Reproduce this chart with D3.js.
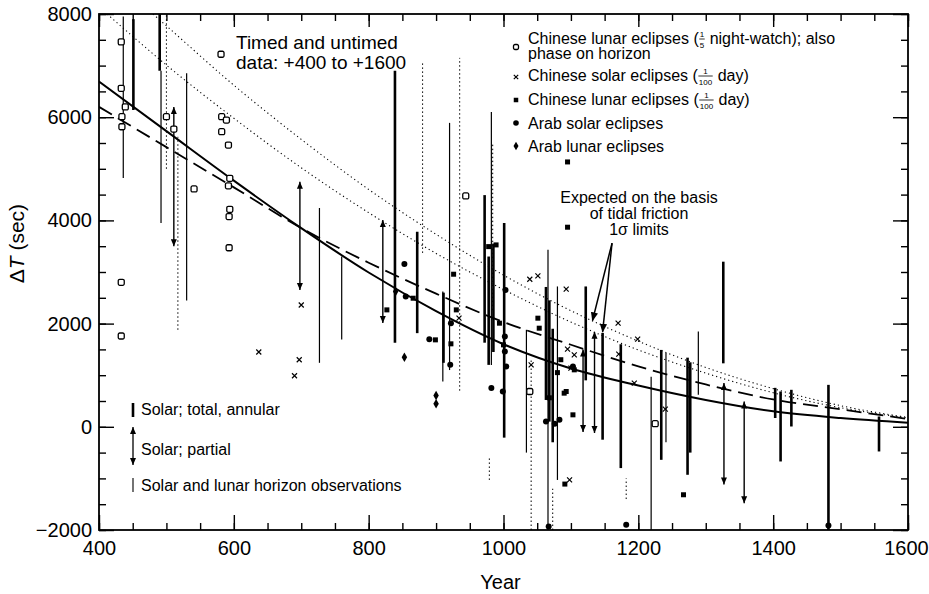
<!DOCTYPE html>
<html>
<head>
<meta charset="utf-8">
<script src="https://cdn.jsdelivr.net/npm/d3@7"></script>
<style>
  body { margin: 0; background: #fff; }
  svg { display: block; font-family: "Liberation Sans", Arial, sans-serif; }
  svg text { white-space: pre; }
</style>
</head>
<body>
<div id="chart"></div>
<script>
// ---- data ----
const curveYears = [400, 500, 600, 700, 800, 900, 1000, 1100, 1200, 1300, 1400, 1500, 1600];
const fitSolid   = [6690, 5730, 4770, 3850, 2990, 2240, 1600, 1130, 800, 520, 300, 170, 80];
const fitDashed  = [6200, 5420, 4640, 3850, 3180, 2580, 2030, 1590, 1170, 820, 530, 340, 150];

const sigmaUpperYears = [480, 500, 600, 700, 800, 900, 1000, 1100, 1200, 1300, 1400, 1500, 1600];
const sigmaUpper      = [8000, 7770, 6620, 5570, 4600, 3730, 2940, 2250, 1660, 1150, 740, 410, 180];
const sigmaLowerYears = [412, 500, 600, 700, 800, 900, 1000, 1100, 1200, 1300, 1400, 1500, 1600];
const sigmaLower      = [8000, 7010, 5980, 5020, 4150, 3360, 2660, 2030, 1490, 1040, 660, 370, 170];

// [year, low, high]
const solarTotal = [
  [451, 6140, 7900], [490, 6900, 8000], [839, 1630, 6900], [872, 1815, 3780],
  [911, 1240, 2600], [972, 1630, 4490], [978, 1200, 3300], [985, 1450, 3550],
  [1001, -210, 3950], [1063, 520, 2710], [1068, 100, 2450], [1073, -300, 1900],
  [1122, 900, 2720], [1147, -250, 1820], [1174, -800, 1600], [1234, -640, 1490],
  [1273, -930, 1340], [1277, -500, 1250], [1326, 1230, 3200], [1403, 170, 755],
  [1411, -672, 684], [1427, 6, 717], [1482, -2000, 813], [1557, -478, 200]
];
const solarPartial = [
  [511, 3500, 6200], [698, 2650, 4750], [821, 2010, 4010], [1118, -100, 1500],
  [1135, -120, 1840], [1327, -1120, 850], [1357, -1480, 490]
];
const horizonObs = [
  [436, 4820, 7950], [492, 3950, 6900], [530, 2450, 6850], [727, 1240, 4240],
  [760, 1690, 3300], [920, 1100, 5890], [910, 880, 2620], [982, 1200, 6100],
  [1034, -500, 1880], [1066, -2000, 3430], [1080, -1030, 2720], [1219, -2000, 970],
  [1241, -300, 1430], [1289, 620, 1845]
];
const untimedRanges = [
  [500, 5000, 8000], [517, 1880, 5620], [880, 3370, 7050], [935, 700, 7150],
  [984, 2260, 5500], [979, -1030, -580], [1041, -2000, 1300], [1073, -2000, -1200],
  [1182, -1400, -1000]
];

// [year, deltaT]
const chineseLunarWatch = [
  [433, 7460], [433, 6560], [434, 6010], [434, 5815], [439, 6200], [433, 2800], [433, 1760],
  [500, 6010], [511, 5770], [541, 4610], [581, 7220], [582, 6010], [589, 5945], [582, 5720],
  [592, 5460], [594, 4815], [592, 4670], [594, 4215], [593, 4075], [593, 3470],
  [944, 4474], [1039, 684], [1225, 60]
];
const chineseSolar = [
  [637, 1450], [690, 990], [697, 1300], [700, 2360], [934, 2105], [1039, 2860], [1051, 2925],
  [1093, 2667], [1095, 1505], [1105, 1395], [1041, 1200], [1100, 1137], [1098, -1030],
  [1170, 2008], [1199, 1700], [1171, 1408], [1194, 846], [1240, 343]
];
const chineseLunarDay = [
  [827, 2266], [866, 2492], [899, 1685], [926, 2957], [930, 2266], [922, 1608], [978, 3492],
  [989, 3525], [994, 2008], [1000, 1588], [1051, 2105], [1053, 1911], [1095, 5133], [1095, 3868],
  [1093, 684], [1103, 232], [1091, -1110], [1105, 1104], [1068, 562], [1267, -1317],
  [1090, 652], [1080, 1050], [1085, 1300]
];
const arabSolar = [
  [853, 3157], [855, 2524], [890, 1699], [922, 2008], [921, 1201], [1003, 2653], [1002, 1749],
  [1002, 1459], [1004, 1168], [999, 684], [1063, 103], [1076, 58], [1083, 136], [982, 750],
  [1067, -1930], [1182, -1898], [1482, -1912], [1103, 1168]
];
const arabLunar = [[900, 606], [900, 445], [853, 1350], [840, 2620]];

const xMajor = [400, 600, 800, 1000, 1200, 1400, 1600];
const yMajor = [-2000, 0, 2000, 4000, 6000, 8000];

const legendLines = [
  ["Chinese lunar eclipses (", { num: "1", den: "5" }, " night-watch); also"],
  ["phase on horizon"],
  ["Chinese solar eclipses (", { num: "1", den: "100" }, " day)"],
  ["Chinese lunar eclipses (", { num: "1", den: "100" }, " day)"],
  ["Arab solar eclipses"],
  ["Arab lunar eclipses"]
];
const barLegend = ["Solar; total, annular", "Solar; partial", "Solar and lunar horizon observations"];
const noteTimed = ["Timed and untimed", "data: +400 to +1600"];
const noteTidal = ["Expected on the basis", "of tidal friction", "1\u03c3 limits"];
const arrowFrom = [1161, 3560];
const arrowTargets = [[1132, 2060], [1147, 1840]];

// ---- layout ----
const MARGIN = { TOP: 14, BOTTOM: 64, LEFT: 99, RIGHT: 21 };
const WIDTH = 929 - MARGIN.LEFT - MARGIN.RIGHT;
const HEIGHT = 594 - MARGIN.TOP - MARGIN.BOTTOM;

const svg = d3.select("#chart").append("svg")
  .attr("width", 929)
  .attr("height", 594);

const g = svg.append("g")
  .attr("transform", `translate(${MARGIN.LEFT}, ${MARGIN.TOP})`);

const x = d3.scaleLinear().domain([400, 1600]).range([0, WIDTH]);
const y = d3.scaleLinear().domain([-2000, 8000]).range([HEIGHT, 0]);

svg.append("defs").append("clipPath").attr("id", "plot")
  .append("rect").attr("width", WIDTH).attr("height", HEIGHT);

// axes: ticks point inward, majors every 200 yr / 2000 s, minors 50 yr / 500 s
function styleAxis(sel) {
  sel.select(".domain").remove();
  sel.selectAll(".tick line").attr("stroke", "#000").attr("stroke-width", 1.4);
  sel.selectAll("text").attr("font-size", 20).attr("fill", "#000")
    .attr("font-family", "Liberation Sans, Arial, sans-serif");
}

g.append("g").attr("transform", `translate(0, ${HEIGHT})`)
  .call(d3.axisBottom(x).ticks(24).tickSize(-7).tickFormat(""))
  .call(styleAxis);
const xAxisGroup = g.append("g").attr("transform", `translate(0, ${HEIGHT})`)
  .call(d3.axisBottom(x).tickValues(xMajor).tickSizeInner(-15).tickSizeOuter(0)
    .tickPadding(11).tickFormat(d3.format("d")))
  .call(styleAxis);
// last label sits on the page edge, nudge it in a little
xAxisGroup.selectAll(".tick text").filter(d => d === 1600).attr("dx", -2);

g.append("g")
  .call(d3.axisTop(x).ticks(24).tickSize(-7).tickFormat(""))
  .call(styleAxis);
g.append("g")
  .call(d3.axisTop(x).tickValues(xMajor).tickSize(-13).tickFormat(""))
  .call(styleAxis);

g.append("g")
  .call(d3.axisLeft(y).ticks(20).tickSize(-7).tickFormat(""))
  .call(styleAxis);
g.append("g")
  .call(d3.axisLeft(y).tickValues(yMajor).tickSizeInner(-15).tickSizeOuter(0)
    .tickPadding(7).tickFormat(d3.format("d")))
  .call(styleAxis);

g.append("g").attr("transform", `translate(${WIDTH}, 0)`)
  .call(d3.axisRight(y).ticks(20).tickSize(-7).tickFormat(""))
  .call(styleAxis);
g.append("g").attr("transform", `translate(${WIDTH}, 0)`)
  .call(d3.axisRight(y).tickValues(yMajor).tickSize(-15).tickFormat(""))
  .call(styleAxis);

g.append("rect")
  .attr("width", WIDTH)
  .attr("height", HEIGHT)
  .attr("fill", "none")
  .attr("stroke", "#000")
  .attr("stroke-width", 1.8);

// axis titles
const yTitle = svg.append("text")
  .attr("transform", `translate(24, ${MARGIN.TOP + y(3550)}) rotate(-90)`)
  .attr("text-anchor", "middle")
  .attr("font-size", 21);
yTitle.append("tspan").text("\u0394");
yTitle.append("tspan").attr("font-style", "italic").text("T");
yTitle.append("tspan").text(" (sec)");

svg.append("text")
  .attr("x", MARGIN.LEFT + x(1000) - 3)
  .attr("y", 589)
  .attr("text-anchor", "middle")
  .attr("font-size", 20)
  .text("Year");

// ---- data layer ----
const plot = g.append("g").attr("clip-path", "url(#plot)");

const line = d3.line()
  .x(d => x(d[0]))
  .y(d => y(d[1]))
  .curve(d3.curveMonotoneX);

plot.append("path")
  .attr("d", line(d3.zip(sigmaUpperYears, sigmaUpper)))
  .attr("fill", "none").attr("stroke", "#000").attr("stroke-width", 1.1)
  .attr("stroke-dasharray", "1.2,3");
plot.append("path")
  .attr("d", line(d3.zip(sigmaLowerYears, sigmaLower)))
  .attr("fill", "none").attr("stroke", "#000").attr("stroke-width", 1.1)
  .attr("stroke-dasharray", "1.2,3");
plot.append("path")
  .attr("d", line(d3.zip(curveYears, fitDashed)))
  .attr("fill", "none").attr("stroke", "#000").attr("stroke-width", 1.8)
  .attr("stroke-dasharray", "15,7");
plot.append("path")
  .attr("d", line(d3.zip(curveYears, fitSolid)))
  .attr("fill", "none").attr("stroke", "#000").attr("stroke-width", 2);

function bars(data, width, dash) {
  plot.append("g").selectAll("line")
    .data(data)
    .enter()
    .append("line")
      .attr("x1", d => x(d[0]))
      .attr("x2", d => x(d[0]))
      .attr("y1", d => y(d[1]))
      .attr("y2", d => y(d[2]))
      .attr("stroke", "#000")
      .attr("stroke-width", width)
      .attr("stroke-dasharray", dash);
}
bars(untimedRanges, 1, "1.5,2.5");
bars(horizonObs, 1.2, null);
bars(solarTotal, 2.6, null);
bars(solarPartial, 1.4, null);

// arrowheads on partial-eclipse ranges
const tri = (cx, cy, dir) =>
  `M${cx - 3},${cy - 7 * dir}L${cx + 3},${cy - 7 * dir}L${cx},${cy}Z`;
plot.append("g").selectAll("path")
  .data(solarPartial)
  .enter()
  .append("path")
    .attr("d", d => tri(x(d[0]), y(d[2]), -1) + tri(x(d[0]), y(d[1]), 1))
    .attr("fill", "#000");

// point symbols
function openMark(sel, s) {
  sel.append("rect").attr("x", -s / 2).attr("y", -s / 2).attr("width", s).attr("height", s)
    .attr("rx", 1.5).attr("fill", "#fff").attr("stroke", "#000").attr("stroke-width", 1.3);
}
function crossMark(sel, s) {
  sel.append("path").attr("d", `M${-s},${-s}L${s},${s}M${-s},${s}L${s},${-s}`)
    .attr("stroke", "#000").attr("stroke-width", 1.2);
}
function boxMark(sel, s) {
  sel.append("rect").attr("x", -s / 2).attr("y", -s / 2).attr("width", s).attr("height", s)
    .attr("fill", "#000");
}
function dotMark(sel, r) {
  sel.append("circle").attr("r", r).attr("fill", "#000");
}
function diamondMark(sel, s) {
  sel.append("path").attr("d", d3.symbol(d3.symbolDiamond, s)()).attr("fill", "#000");
}

function points(data, draw, size) {
  plot.append("g").selectAll("g")
    .data(data)
    .enter()
    .append("g")
      .attr("transform", d => `translate(${x(d[0])}, ${y(d[1])})`)
      .each(function () { draw(d3.select(this), size); });
}
points(chineseLunarWatch, openMark, 6);
points(chineseSolar, crossMark, 2.5);
points(chineseLunarDay, boxMark, 5);
points(arabSolar, dotMark, 3);
points(arabLunar, diamondMark, 26);

// ---- annotations ----
const timed = g.append("g").attr("font-size", 19);
noteTimed.forEach((t, i) => {
  timed.append("text").attr("x", 137).attr("y", 35 + i * 20).text(t);
});

const tidal = g.append("g").attr("font-size", 16).attr("text-anchor", "middle");
noteTidal.forEach((t, i) => {
  tidal.append("text").attr("x", 540).attr("y", 189 + i * 16).text(t);
});

svg.select("defs").append("marker")
  .attr("id", "head")
  .attr("viewBox", "0 0 10 10")
  .attr("refX", 9).attr("refY", 5)
  .attr("markerWidth", 6).attr("markerHeight", 7)
  .attr("orient", "auto")
  .append("path").attr("d", "M0,1L10,5L0,9Z").attr("fill", "#000");

g.append("g").selectAll("line")
  .data(arrowTargets)
  .enter()
  .append("line")
    .attr("x1", x(arrowFrom[0]))
    .attr("y1", y(arrowFrom[1]))
    .attr("x2", d => x(d[0]))
    .attr("y2", d => y(d[1]))
    .attr("stroke", "#000")
    .attr("stroke-width", 1.5)
    .attr("marker-end", "url(#head)");

// legend, top right
const legend = g.append("g").attr("font-size", 16);
const legendY = [24, 39, 61, 85, 109, 132];

function richLine(sel, x0, y0, parts) {
  let cx = x0;
  parts.forEach(p => {
    if (typeof p === "string") {
      const t = sel.append("text").attr("x", cx).attr("y", y0).text(p);
      cx += t.node().getComputedTextLength();
    } else {
      const n = sel.append("text").attr("font-size", 8).attr("text-anchor", "middle").text(p.num);
      const d = sel.append("text").attr("font-size", 8).attr("text-anchor", "middle").text(p.den);
      const w = Math.max(n.node().getComputedTextLength(), d.node().getComputedTextLength()) + 2;
      n.attr("x", cx + w / 2).attr("y", y0 - 7);
      d.attr("x", cx + w / 2).attr("y", y0 + 4);
      sel.append("line").attr("x1", cx + 0.5).attr("x2", cx + w - 0.5)
        .attr("y1", y0 - 4.5).attr("y2", y0 - 4.5)
        .attr("stroke", "#000").attr("stroke-width", 0.8);
      cx += w;
    }
  });
}
legendLines.forEach((parts, i) => richLine(legend, 429, legendY[i] + 5.5, parts));

const legendMarks = [
  [33, openMark, 5], [63, crossMark, 2.2], [86, boxMark, 4.5], [109, dotMark, 2.8], [132, diamondMark, 22]
];
legendMarks.forEach(([yy, draw, s]) => {
  draw(legend.append("g").attr("transform", `translate(417, ${yy})`), s);
});

// legend, bottom left
const barKey = g.append("g").attr("font-size", 16);
barKey.append("line").attr("x1", 34).attr("x2", 34).attr("y1", 389).attr("y2", 403)
  .attr("stroke", "#000").attr("stroke-width", 2.6);
barKey.append("line").attr("x1", 34).attr("x2", 34).attr("y1", 413).attr("y2", 451)
  .attr("stroke", "#000").attr("stroke-width", 1.3);
barKey.append("path").attr("d", tri(34, 413, -1) + tri(34, 451, 1)).attr("fill", "#000");
barKey.append("line").attr("x1", 34).attr("x2", 34).attr("y1", 464).attr("y2", 478)
  .attr("stroke", "#000").attr("stroke-width", 1.1);
[395, 435, 471].forEach((yy, i) => {
  barKey.append("text").attr("x", 42).attr("y", yy + 6).text(barLegend[i]);
});
</script>
</body>
</html>
